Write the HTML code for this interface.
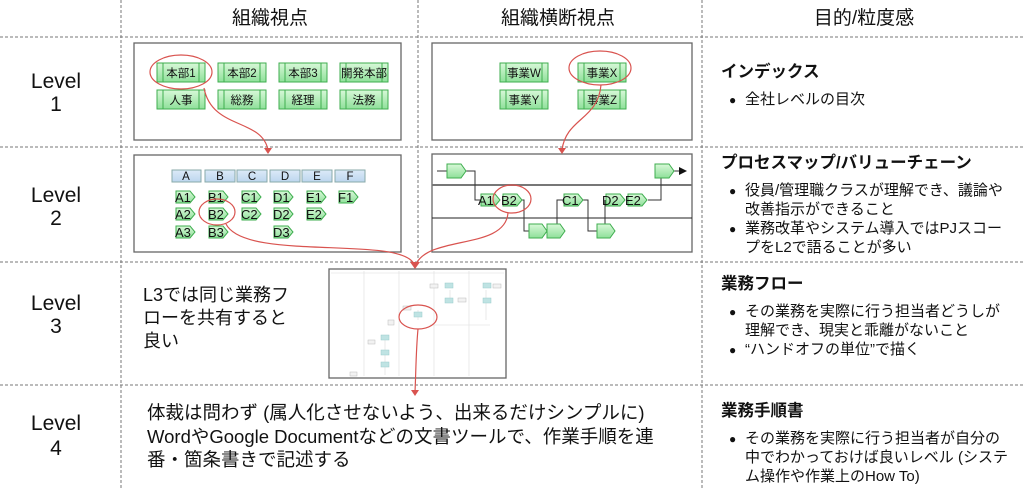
<!DOCTYPE html>
<html><head><meta charset="utf-8"><style>
html,body{margin:0;padding:0;background:#fff;}
svg text{font-family:"Liberation Sans","Noto Sans CJK JP",sans-serif;fill:#111;}
</style></head><body>
<svg width="1024" height="490" viewBox="0 0 1024 490" xmlns="http://www.w3.org/2000/svg">
<defs>
<linearGradient id="g" x1="0" y1="0" x2="0" y2="1"><stop offset="0" stop-color="#d8f8d8"/><stop offset="1" stop-color="#8fe09a"/></linearGradient>
<linearGradient id="b" x1="0" y1="0" x2="0" y2="1"><stop offset="0" stop-color="#dceaf8"/><stop offset="1" stop-color="#bcd6ee"/></linearGradient>
</defs>
<g stroke="#777" stroke-width="1" stroke-dasharray="3,2" fill="none">
<line x1="121" y1="0" x2="121" y2="490"/><line x1="418" y1="0" x2="418" y2="262"/>
<line x1="702" y1="0" x2="702" y2="490"/>
<line x1="0" y1="37" x2="1024" y2="37"/><line x1="0" y1="147" x2="1024" y2="147"/>
<line x1="0" y1="262" x2="1024" y2="262"/><line x1="0" y1="385" x2="1024" y2="385"/>
</g>
<g font-size="19" text-anchor="middle">
<text x="270" y="24">組織視点</text><text x="558" y="24">組織横断視点</text><text x="864" y="24">目的/粒度感</text>
</g>
<g font-size="21" text-anchor="middle">
<text x="56" y="88">Level</text><text x="56" y="111">1</text>
<text x="56" y="202">Level</text><text x="56" y="225">2</text>
<text x="56" y="310">Level</text><text x="56" y="333">3</text>
<text x="56" y="430">Level</text><text x="56" y="455">4</text>
</g>
<g fill="#fff" stroke="#666" stroke-width="1.3">
<rect x="134" y="43" width="267" height="97"/><rect x="432" y="43" width="260" height="97"/>
<rect x="134" y="155" width="267" height="97"/><rect x="432" y="154" width="260" height="98"/>
</g>
<g stroke="#3fae4f" stroke-width="1" fill="url(#g)">
<rect x="157" y="63" width="48" height="19"/><rect x="218" y="63" width="48" height="19"/><rect x="279" y="63" width="48" height="19"/><rect x="340" y="63" width="48" height="19"/>
<rect x="157" y="90" width="48" height="19"/><rect x="218" y="90" width="48" height="19"/><rect x="279" y="90" width="48" height="19"/><rect x="340" y="90" width="48" height="19"/>
<rect x="500" y="63" width="48" height="19"/><rect x="578" y="63" width="48" height="19"/>
<rect x="500" y="90" width="48" height="19"/><rect x="578" y="90" width="48" height="19"/>
</g>
<g stroke="#3fae4f" stroke-width="1">
<path d="M163 63v19M199 63v19M224 63v19M260 63v19M285 63v19M321 63v19M346 63v19M382 63v19M163 90v19M199 90v19M224 90v19M260 90v19M285 90v19M321 90v19M346 90v19M382 90v19M506 63v19M542 63v19M584 63v19M620 63v19M506 90v19M542 90v19M584 90v19M620 90v19"/>
</g>
<g font-size="11.5" text-anchor="middle">
<text x="181" y="77">本部1</text><text x="242" y="77">本部2</text><text x="303" y="77">本部3</text><text x="364" y="77">開発本部</text>
<text x="181" y="104">人事</text><text x="242" y="104">総務</text><text x="303" y="104">経理</text><text x="364" y="104">法務</text>
<text x="524" y="77">事業W</text><text x="602" y="77">事業X</text><text x="524" y="104">事業Y</text><text x="602" y="104">事業Z</text>
</g>
<g fill="url(#b)" stroke="#8aa" stroke-width="1">
<rect x="172" y="170" width="29" height="12"/><rect x="205" y="170" width="30" height="12"/><rect x="237" y="170" width="30" height="12"/><rect x="270" y="170" width="30" height="12"/><rect x="302" y="170" width="30" height="12"/><rect x="335" y="170" width="30" height="12"/>
</g>
<g font-size="11.5" text-anchor="middle">
<text x="186" y="180">A</text><text x="220" y="180">B</text><text x="252" y="180">C</text><text x="285" y="180">D</text><text x="317" y="180">E</text><text x="350" y="180">F</text>
</g>
<g fill="url(#g)" stroke="#3fae4f" stroke-width="1">
<path d="M0 -6h14l5 6l-5 6h-14z" transform="translate(176,197)"/>
<path d="M0 -6h14l5 6l-5 6h-14z" transform="translate(209,197)"/><path d="M0 -6h14l5 6l-5 6h-14z" transform="translate(242,197)"/><path d="M0 -6h14l5 6l-5 6h-14z" transform="translate(274,197)"/><path d="M0 -6h14l5 6l-5 6h-14z" transform="translate(307,197)"/><path d="M0 -6h14l5 6l-5 6h-14z" transform="translate(339,197)"/>
<path d="M0 -6h14l5 6l-5 6h-14z" transform="translate(176,214)"/><path d="M0 -6h14l5 6l-5 6h-14z" transform="translate(209,214)"/><path d="M0 -6h14l5 6l-5 6h-14z" transform="translate(242,214)"/><path d="M0 -6h14l5 6l-5 6h-14z" transform="translate(274,214)"/><path d="M0 -6h14l5 6l-5 6h-14z" transform="translate(307,214)"/>
<path d="M0 -6h14l5 6l-5 6h-14z" transform="translate(176,232)"/><path d="M0 -6h14l5 6l-5 6h-14z" transform="translate(209,232)"/><path d="M0 -6h14l5 6l-5 6h-14z" transform="translate(274,232)"/>
</g>
<g font-size="13">
<text x="175" y="202">A1</text><text x="208" y="202">B1</text><text x="241" y="202">C1</text><text x="273" y="202">D1</text><text x="306" y="202">E1</text><text x="338" y="202">F1</text>
<text x="175" y="219">A2</text><text x="208" y="219">B2</text><text x="241" y="219">C2</text><text x="273" y="219">D2</text><text x="306" y="219">E2</text>
<text x="175" y="237">A3</text><text x="208" y="237">B3</text><text x="273" y="237">D3</text>
</g>
<line x1="432" y1="185" x2="692" y2="185" stroke="#777" stroke-width="2"/>
<line x1="432" y1="218" x2="692" y2="218" stroke="#222" stroke-width="1"/>
<g fill="none" stroke="#333" stroke-width="1">
<path d="M437 171h10M466 171h9v29h6M521 200h3v31h5M557 231v-31h7M583 200h5v31h9M605 231v-31M648 200h13v-23"/>
<path d="M673 171h8"/>
</g>
<path d="M679 167l8 4l-8 4z" fill="#111"/>
<g fill="url(#g)" stroke="#3fae4f" stroke-width="1">
<path d="M0 -7h14l5 7l-5 7h-14z" transform="translate(447,171)"/><path d="M0 -7h14l5 7l-5 7h-14z" transform="translate(655,171)"/>
<path d="M0 -6h14l5 6l-5 6h-14z" transform="translate(481,200)"/><path d="M0 -6h14l5 6l-5 6h-14z" transform="translate(503,200)"/>
<path d="M0 -6h14l5 6l-5 6h-14z" transform="translate(564,200)"/><path d="M0 -6h14l5 6l-5 6h-14z" transform="translate(606,200)"/><path d="M0 -6h14l5 6l-5 6h-14z" transform="translate(628,200)"/>
<path d="M0 -7h13l5 7l-5 7h-13z" transform="translate(529,231)"/><path d="M0 -7h13l5 7l-5 7h-13z" transform="translate(547,231)"/><path d="M0 -7h13l5 7l-5 7h-13z" transform="translate(597,231)"/>
</g>
<g font-size="13">
<text x="478" y="205">A1</text><text x="501" y="205">B2</text><text x="562" y="205">C1</text><text x="602" y="205">D2</text><text x="625" y="205">E2</text>
</g>
<rect x="329" y="269" width="177" height="109" fill="#fff" stroke="#666" stroke-width="1.3"/>
<g stroke="#ddd" stroke-width="0.6" fill="none">
<line x1="331" y1="273" x2="504" y2="273"/><line x1="364" y1="271" x2="364" y2="376"/><line x1="399" y1="271" x2="399" y2="376"/><line x1="434" y1="271" x2="434" y2="376"/><line x1="469" y1="271" x2="469" y2="376"/>
<path d="M385 335v40M418 310v10M450 290v10M486 290v30M430 325h60"/>
</g>
<g fill="#bfe3e3" stroke="#9cc" stroke-width="0.5">
<rect x="445" y="283" width="8" height="5"/><rect x="445" y="298" width="8" height="5"/><rect x="483" y="283" width="8" height="5"/><rect x="483" y="298" width="8" height="5"/><rect x="414" y="312" width="8" height="5"/><rect x="381" y="335" width="8" height="5"/><rect x="381" y="350" width="8" height="5"/><rect x="381" y="362" width="8" height="5"/>
</g>
<g fill="#f2f2f2" stroke="#bbb" stroke-width="0.5">
<rect x="430" y="284" width="8" height="4"/><rect x="458" y="298" width="8" height="4"/><rect x="493" y="284" width="8" height="4"/><rect x="403" y="306" width="8" height="4"/><rect x="388" y="320" width="6" height="5"/><rect x="368" y="340" width="7" height="4"/><rect x="350" y="372" width="7" height="4"/>
</g>
<g fill="none" stroke="#d9534f" stroke-width="1.2">
<ellipse cx="181" cy="72" rx="31" ry="17"/>
<ellipse cx="600" cy="68" rx="31" ry="17"/>
<ellipse cx="217" cy="212" rx="18" ry="13"/>
<ellipse cx="512" cy="199" rx="19" ry="14"/>
<ellipse cx="418" cy="317" rx="19" ry="12"/>
<path d="M204 88 C212 130 262 118 268 150"/>
<path d="M601 85 C598 120 566 118 562 150"/>
<path d="M226 224 C245 262 400 235 414 264"/>
<path d="M508 213 C505 250 430 235 416 264"/>
<path d="M418 329 C416 350 416 370 415 392"/>
</g>
<g fill="#d9534f">
<path d="M264 148l8 0l-4 6z"/><path d="M558 148l8 0l-4 6z"/><path d="M410 262l10 0l-5 7z"/><path d="M411 390l8 0l-4 6z"/>
</g>
<g font-size="18">
<text x="143" y="301">L3では同じ業務フ</text><text x="143" y="324">ローを共有すると</text><text x="143" y="347">良い</text>
</g>
<g font-size="18.5">
<text x="147" y="419">体裁は問わず (属人化させないよう、出来るだけシンプルに)</text>
<text x="147" y="443">WordやGoogle Documentなどの文書ツールで、作業手順を連</text>
<text x="147" y="466">番・箇条書きで記述する</text>
</g>
<g font-size="16.5" font-weight="bold">
<text x="721" y="77">インデックス</text><text x="721" y="168">プロセスマップ/バリューチェーン</text>
<text x="721" y="289">業務フロー</text><text x="721" y="416">業務手順書</text>
</g>
<g font-size="15">
<text x="729" y="104" font-size="12">●</text><text x="745" y="104">全社レベルの目次</text>
<text x="729" y="195" font-size="12">●</text><text x="745" y="195">役員/管理職クラスが理解でき、議論や</text>
<text x="745" y="214">改善指示ができること</text>
<text x="729" y="233" font-size="12">●</text><text x="745" y="233">業務改革やシステム導入ではPJスコー</text>
<text x="745" y="252">プをL2で語ることが多い</text>
<text x="729" y="316" font-size="12">●</text><text x="745" y="316">その業務を実際に行う担当者どうしが</text>
<text x="745" y="335">理解でき、現実と乖離がないこと</text>
<text x="729" y="354" font-size="12">●</text><text x="745" y="354">“ハンドオフの単位”で描く</text>
<text x="729" y="443" font-size="12">●</text><text x="745" y="443">その業務を実際に行う担当者が自分の</text>
<text x="745" y="462">中でわかっておけば良いレベル (システ</text>
<text x="745" y="481">ム操作や作業上のHow To)</text>
</g>
</svg>
</body></html>
